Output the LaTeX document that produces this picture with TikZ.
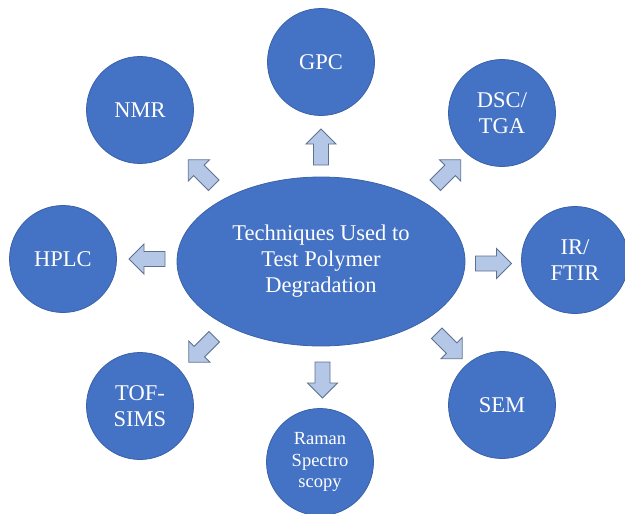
\documentclass[tikz,border=0pt]{standalone}
\usepackage{fontspec}
\setmainfont{Liberation Serif}
\usetikzlibrary{shapes.geometric}
\definecolor{bubble}{HTML}{4472C4}
\definecolor{bubbleline}{HTML}{3A62A8}
\definecolor{arrfill}{HTML}{B4C7E7}
\definecolor{arrline}{HTML}{5E7191}
\tikzset{
  bubblebox/.style={circle, minimum size=107pt, inner sep=0pt, fill=bubble, draw=bubbleline, line width=0.8pt,
    text=white, align=center, font=\fontsize{22.5}{26}\selectfont},
  hubbox/.style={ellipse, minimum width=288pt, minimum height=169pt, inner sep=0pt, fill=bubble, draw=bubbleline, line width=0.8pt,
    text=white, align=center, font=\fontsize{22.5}{26}\selectfont},
  blockarrow/.pic={\draw[fill=arrfill, draw=arrline, line width=0.9pt, line join=miter]
     (-18,-7.5) -- (3,-7.5) -- (3,-15) -- (18,0) -- (3,15) -- (3,7.5) -- (-18,7.5) -- cycle;}
}
\begin{document}
\begin{tikzpicture}[x=1pt, y=-1pt]
\useasboundingbox (0,0) rectangle (625,514);
\node[hubbox] (hub) at (321,261.5) {Techniques Used to\\Test Polymer\\Degradation};
\node[bubblebox] (gpc) at (321,62) {GPC};
\node[bubblebox] (nmr) at (140,110) {NMR};
\node[bubblebox] (dsc) at (502,113) {DSC/\\TGA};
\node[bubblebox] (hplc) at (63,259) {HPLC};
\node[bubblebox] (ir) at (575,260) {IR/\\FTIR};
\node[bubblebox] (tof) at (140,406) {TOF-\\SIMS};
\node[bubblebox, font=\fontsize{18.5}{21.5}\selectfont] (raman) at (320,462) {Raman\\Spectro\\scopy};
\node[bubblebox] (sem) at (502,405) {SEM};
\pic[rotate=90] at (321,147) {blockarrow};
\pic[rotate=180] at (147,259) {blockarrow};
\pic[rotate=0] at (493.5,263.5) {blockarrow};
\pic[rotate=-90] at (322.5,380) {blockarrow};
\pic[rotate=135] at (201,172.5) {blockarrow};
\pic[rotate=45] at (448,172.5) {blockarrow};
\pic[rotate=-135] at (201.5,349.5) {blockarrow};
\pic[rotate=-45] at (449.5,346) {blockarrow};
\end{tikzpicture}
\end{document}
